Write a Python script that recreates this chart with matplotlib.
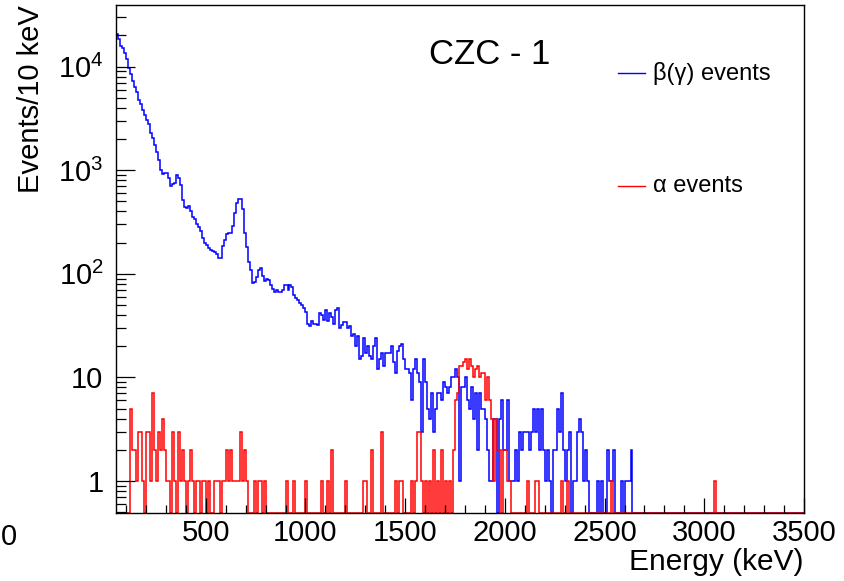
import matplotlib
matplotlib.use('Agg')
import matplotlib.pyplot as plt
import numpy as np
from matplotlib.ticker import FixedLocator, FixedFormatter, MultipleLocator, LogLocator, NullFormatter

plt.rcParams['font.family'] = ['Liberation Sans', 'DejaVu Sans']
plt.rcParams['mathtext.fontset'] = 'custom'
plt.rcParams['mathtext.rm'] = 'Liberation Sans'
plt.rcParams['mathtext.it'] = 'Liberation Sans:italic'

# histogram binning: 10 keV bins from 50 to 3500 keV
e_min = 50
e_max = 3500
bin_width = 10

# beta(gamma) events per bin, starting at 50 keV (bins above 2640 keV are empty)
beta_counts = [
    20900, 18300, 16000, 15000, 13700, 11800, 9800, 8500, 7300, 6300,   # 50
    5650, 4800, 4400, 3800, 3400, 3030, 2770, 2300, 2030, 1750,         # 150
    1500, 1250, 1000, 910, 950, 950, 850, 700, 730, 750,                # 250
    900, 850, 715, 515, 440, 430, 450, 400, 350, 340,                   # 350
    300, 285, 260, 220, 200, 188, 178, 168, 165, 163,                   # 450
    155, 142, 141, 185, 210, 240, 245, 245, 290, 390,                   # 550
    480, 525, 525, 420, 250, 180, 130, 108, 82, 83,                     # 650
    93, 108, 115, 95, 86, 90, 87, 78, 72, 66,                           # 750
    70, 66, 67, 70, 78, 78, 70, 78, 75, 63,                             # 850
    58, 56, 52, 50, 47, 43, 33, 31, 35, 33,                             # 950
    33, 32, 42, 40, 36, 45, 35, 42, 38, 33,                             # 1050
    45, 47, 30, 32, 34, 34, 30, 31, 25, 26,                             # 1150
    20, 25, 15, 16, 24, 17, 20, 16, 15, 20,                             # 1250
    24, 12, 15, 17, 13, 17, 17, 17, 20, 14,                             # 1350
    11, 18, 20, 21, 15, 12, 12, 11, 6, 12,                              # 1450
    15, 11, 9, 3, 15, 9, 5, 4, 7, 3,                                    # 1550
    5, 7, 7, 6, 9, 8, 7, 8, 10, 10,                                     # 1650
    12, 10, 1, 8, 8, 10, 6, 5, 8, 4,                                    # 1750
    7, 2, 7, 5, 5, 4, 2, 1, 1, 4,                                       # 1850
    4, 0, 4, 6, 2, 2, 6, 1, 1, 1,                                       # 1950
    2, 1, 3, 2, 3, 3, 3, 2, 3, 5,                                       # 2050
    3, 5, 2, 5, 2, 1, 2, 1, 0, 2,                                       # 2150
    2, 5, 3, 7, 2, 1, 2, 3, 0, 1,                                       # 2250
    1, 3, 4, 3, 1, 2, 1, 0, 0, 0,                                       # 2350
    0, 1, 0, 1, 0, 0, 2, 1, 1, 2,                                       # 2450
    0, 0, 0, 1, 0, 1, 1, 1, 2,                                          # 2550
]

# alpha events per bin, starting at 50 keV (bins above 3060 keV are empty)
alpha_counts = [
    0, 0, 0, 0, 0, 0, 0, 5, 2, 2,       # 50
    1, 3, 3, 1, 0, 3, 3, 1, 7, 2,       # 150
    1, 3, 2, 4, 2, 1, 1, 0, 3, 1,       # 250
    0, 3, 1, 2, 1, 0, 1, 2, 1, 0,       # 350
    1, 1, 0, 1, 1, 0, 1, 0, 0, 1,       # 450
    1, 1, 0, 1, 1, 2, 1, 2, 1, 1,       # 550
    1, 1, 3, 1, 2, 1, 0, 0, 0, 1,       # 650
    0, 1, 1, 0, 1, 0, 0, 0, 0, 0,       # 750
    0, 0, 0, 0, 0, 1, 0, 0, 0, 1,       # 850
    0, 0, 0, 0, 0, 1, 0, 0, 0, 0,       # 950
    0, 0, 0, 1, 0, 0, 1, 0, 2, 0,       # 1050
    0, 0, 0, 0, 0, 1, 0, 0, 0, 0,       # 1150
    0, 0, 0, 0, 1, 1, 0, 0, 2, 0,       # 1250
    0, 0, 0, 3, 0, 0, 0, 0, 0, 0,       # 1350
    1, 0, 1, 1, 0, 0, 0, 0, 1, 0,       # 1450
    1, 3, 3, 1, 0, 1, 0, 1, 0, 2,       # 1550
    0, 1, 0, 2, 0, 1, 0, 1, 0, 2,       # 1650
    6, 7, 13, 13, 14, 15, 12, 15, 13, 10,   # 1750
    12, 13, 10, 11, 11, 6, 10, 6, 4, 1,     # 1850
    4, 2, 2, 0, 2, 2, 1, 1, 0, 0,       # 1950
    0, 0, 0, 0, 0, 0, 1, 0, 0, 0,       # 2050
    1, 1, 0, 0, 0, 0, 0, 0, 0, 0,       # 2150
    0, 0, 0, 1, 0, 0, 1, 0, 0, 0,       # 2250
    0, 0, 0, 0, 0, 0, 0, 0, 0, 0,       # 2350
    0, 0, 0, 0, 0, 0, 0, 0, 1, 0,       # 2450
    0, 0, 0, 0, 0, 0, 0, 0, 0, 0,       # 2550
    0, 0, 0, 0, 0, 0, 0, 0, 0, 0,       # 2650
    0, 0, 0, 0, 0, 0, 0, 0, 0, 0,       # 2750
    0, 0, 0, 0, 0, 0, 0, 0, 0, 0,       # 2850
    0, 0, 0, 0, 0, 0, 0, 0, 0, 0,       # 2950
    1,                                  # 3050
]

y_ticks = [1, 10, 100, 1000, 10000]
y_tick_labels = ['1', '10', '$10^{2}$', '$10^{3}$', '$10^{4}$']
x_ticks = [500, 1000, 1500, 2000, 2500, 3000, 3500]

y_low = 0.49
y_high = 3.94e4

edges = np.arange(e_min, e_max + bin_width, bin_width)
nbins = len(edges) - 1


def full_hist(counts):
    h = np.zeros(nbins)
    h[:len(counts)] = counts
    # empty bins are drawn along the bottom of the frame, as ROOT does on log axes
    h[h <= 0] = y_low
    return h


fig = plt.figure(figsize=(8.45, 5.81), dpi=100)
ax = fig.add_axes([116 / 845, 1 - 513 / 581, 688 / 845, 508 / 581])

ax.stairs(full_hist(beta_counts), edges, color='#0000ff', lw=1.1, baseline=None)
ax.stairs(full_hist(alpha_counts), edges, color='#ff0000', lw=1.1, baseline=None)

ax.set_yscale('log')
ax.set_xlim(e_min, e_max)
ax.set_ylim(y_low, y_high)

ax.yaxis.set_major_locator(FixedLocator(y_ticks))
ax.yaxis.set_major_formatter(FixedFormatter(y_tick_labels))
ax.yaxis.set_minor_locator(LogLocator(base=10, subs=np.arange(2, 10)))
ax.yaxis.set_minor_formatter(NullFormatter())
ax.xaxis.set_major_locator(FixedLocator(x_ticks))
ax.xaxis.set_minor_locator(MultipleLocator(100))

ax.tick_params(axis='both', which='both', direction='in', top=False, right=False,
               width=0.9, labelsize=21)
ax.tick_params(axis='y', which='major', length=14, pad=9)
ax.tick_params(axis='y', which='minor', length=7)
ax.tick_params(axis='x', which='major', length=11, pad=4)
ax.tick_params(axis='x', which='minor', length=6)
for s in ax.spines.values():
    s.set_linewidth(1.0)

ax.set_xlabel('Energy (keV)', fontsize=21.5, loc='right')
ax.xaxis.set_label_coords(1.0, -0.068)
ax.set_ylabel('Events/10 keV', fontsize=21, loc='top')
ax.yaxis.set_label_coords(-0.103, 1.0)

ax.text(0.5436, 0.9016, 'CZC - 1', transform=ax.transAxes, fontsize=25,
        ha='center', va='center')

# legend entries
ax.plot([0.73, 0.769], [0.866, 0.866], transform=ax.transAxes, color='#0000ff', lw=1.0)
ax.text(0.781, 0.866, 'β(γ) events', transform=ax.transAxes, fontsize=17, va='center')
ax.plot([0.73, 0.769], [0.644, 0.644], transform=ax.transAxes, color='#ff0000', lw=1.0)
ax.text(0.781, 0.644, 'α events', transform=ax.transAxes, fontsize=17, va='center')

fig.text(0.001, 1 - 537 / 581, '0', fontsize=21, ha='left', va='center')

plt.savefig('out.png', dpi=100)
